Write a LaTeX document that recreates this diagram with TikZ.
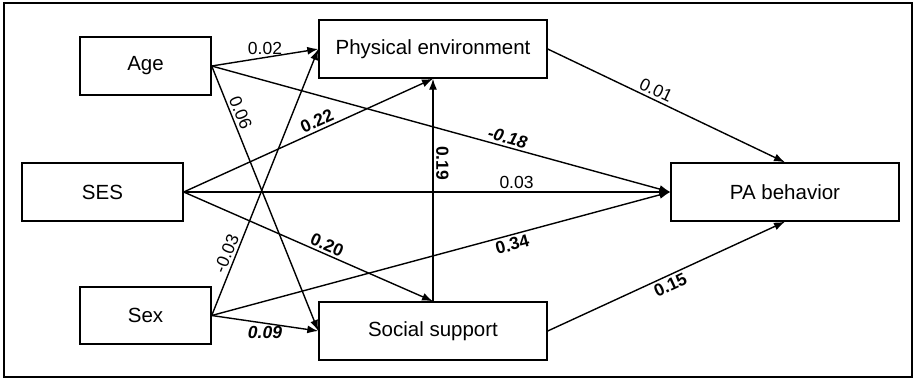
\documentclass[tikz,border=0pt]{standalone}
\usepackage{fontspec}
\setmainfont{Liberation Sans}
\usetikzlibrary{arrows.meta}
\begin{document}
\begin{tikzpicture}[x=1pt,y=-1pt,
  vbox/.style={draw, line width=1.4pt, minimum width=#1, minimum height=58pt, inner sep=0pt, font=\fontsize{20.5}{24}\selectfont},
  vbox/.default=131pt,
  conn/.style={line width=1.4pt, -{Latex[length=11pt,width=8pt]}},
  lbl/.style={font=\fontsize{17.5}{20}\selectfont, inner sep=2.5pt},
  blbl/.style={font=\fontsize{17.5}{20}\selectfont\bfseries, inner sep=2.5pt},
  bilbl/.style={font=\fontsize{17.5}{20}\selectfont\bfseries\itshape, inner sep=2.5pt}
]
\useasboundingbox (0,0) rectangle (916,381);
\draw[line width=2.5pt] (4,3) rectangle (912,377);

\node[vbox=131pt] (age) at (145.5,66) {Age};
\node[vbox=161pt] (ses) at (102.5,192) {SES};
\node[vbox=131pt, minimum height=57pt] (sex) at (145.5,315.5) {Sex};
\node[vbox=228pt] (pe) at (433,49) {Physical environment};
\node[vbox=228pt] (ss) at (433,331) {Social support};
\node[vbox=228pt] (pa) at (785,192) {PA behavior};

% Age
\draw[conn] (age.east) -- node[lbl, pos=0.5, above] {0.02} (pe.west);
\draw[conn] (age.east) -- node[lbl, pos=0.19, sloped, above] {0.06} (ss.west);
\draw[conn] (age.east) -- node[bilbl, pos=0.64, sloped, above] {-0.18} (pa.west);
% SES
\draw[conn] (ses.east) -- node[blbl, pos=0.55, sloped, above] {0.22} (pe.south);
\draw[conn] (ses.east) -- node[lbl, pos=0.684, above] {0.03} (pa.west);
\draw[conn] (ses.east) -- node[blbl, pos=0.56, sloped, above] {0.20} (ss.north);
% Sex
\draw[conn] (sex.east) -- node[lbl, pos=0.22, sloped, above] {-0.03} (pe.west);
\draw[conn] (sex.east) -- node[bilbl, pos=0.5, below] {0.09} (ss.west);
\draw[conn] (sex.east) -- node[blbl, pos=0.65, sloped, below] {0.34} (pa.west);
% mediators
\draw[line width=1.4pt, {Latex[length=11pt,width=8pt]}-] (pe.south) -- node[blbl, pos=0.38, sloped, above] {0.19} (ss.north);
\draw[conn] (pe.east) -- node[lbl, pos=0.44, sloped, above] {0.01} (pa.north);
\draw[conn] (ss.east) -- node[blbl, pos=0.5, sloped, below] {0.15} (pa.south);
\end{tikzpicture}
\end{document}
